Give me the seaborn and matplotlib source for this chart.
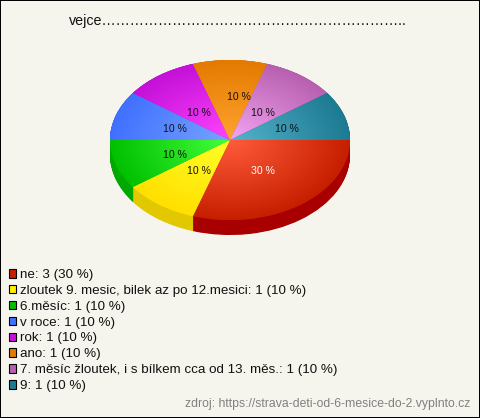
import matplotlib
matplotlib.use('Agg')
import matplotlib.pyplot as plt
from matplotlib.colors import LinearSegmentedColormap
from matplotlib.patches import Rectangle
import numpy as np
import seaborn as sns

# Survey answers
categories = ['ne', 'zloutek 9. mesic, bilek az po 12.mesici', '6.měsíc', 'v roce', 'rok', 'ano',
              '7. měsíc žloutek, i s bílkem cca od 13. měs.', '9']
counts = [3, 1, 1, 1, 1, 1, 1, 1]
percents = [30, 10, 10, 10, 10, 10, 10, 10]
title_text = 'vejce' + '…' * 21 + '..'
source_text = 'zdroj: https://strava-deti-od-6-mesice-do-2.vyplnto.cz'

# Colours: wedge rim, wedge centre, side wall
rim_colors = ['#c61f00', '#ffe000', '#00c000', '#4070ff', '#c410d8', '#e47a00', '#b860b0', '#1c7a92']
centre_colors = ['#ff5c3c', '#ffff28', '#44ff3c', '#78a4ff', '#ff44ff', '#ffa430', '#f2a4f2', '#54b4cc']
side_colors = ['#a80000', '#e2c800', '#00a800', '#2850c0', '#9000a0', '#b06000', '#904890', '#105868']
legend_colors = ['#c62000', '#fff000', '#00c000', '#4070ff', '#c810d8', '#e47a00', '#b860b0', '#1c7a92']
bg_color = '#f5f5ee'

sns.set_theme(style='white')
plt.rcParams['font.family'] = ['Liberation Sans', 'DejaVu Sans']

W, H = 480, 418
fig = plt.figure(figsize=(W / 100, H / 100), dpi=100, facecolor=bg_color)

# pie box in pixels: centre (230, 140), radii 120 x 80, 15 px wall
depth = 15 / 80
ax = fig.add_axes([110 / W, 1 - 235 / H, 240 / W, 175 / H])
ax.patch.set_alpha(0)
no_edge = {'linewidth': 0, 'edgecolor': 'none'}

for d in np.linspace(depth, 0.0, 31):
    ax.pie(counts, colors=side_colors, startangle=0, counterclock=False, center=(0, -d), wedgeprops=no_edge)

wedges, _, autotexts = ax.pie(counts, colors=rim_colors, startangle=0, counterclock=False,
                              autopct=lambda p: '%d %%' % round(p), pctdistance=0.5, wedgeprops=no_edge,
                              textprops={'fontsize': 7.6, 'color': '#111111'})
autotexts[0].set_color('white')

# radial gradient on every wedge
grid = np.linspace(-1, 1, 300)
xx, yy = np.meshgrid(grid, grid)
rr = np.clip(np.hypot(xx, yy), 0, 1)
for wedge, inner, outer in zip(wedges, centre_colors, rim_colors):
    cmap = LinearSegmentedColormap.from_list('w', [inner, outer])
    im = ax.imshow(rr, extent=(-1, 1, -1, 1), cmap=cmap, vmin=0, vmax=1, aspect='auto', zorder=2)
    im.set_clip_path(wedge)

# the labels sit a little off the wedge middle in the original (px right, px down)
nudges = [(-2, -1), (4, -1), (2, 3), (2, 1), (4, 5), (9, -3), (-2, 5), (0, 1)]
for t, (dx, dy) in zip(autotexts, nudges):
    x, y = t.get_position()
    t.set_position((x + dx / 120, y - dy / 80))
    t.set_zorder(5)

ax.set_aspect('auto')
ax.set_xlim(-1, 1)
ax.set_ylim(-1 - depth, 1)
ax.axis('off')

fig.text(69 / W, 1 - 21 / H, title_text, fontsize=10.3, color='#111111', va='center', ha='left')

handles = [Rectangle((0, 0), 1, 1, facecolor=c, edgecolor='black', linewidth=0.8) for c in legend_colors]
labels = ['%s: %d (%d %%)' % row for row in zip(categories, counts, percents)]
fig.legend(handles, labels, loc='upper left', bbox_to_anchor=(4.5 / W, 1 - 265 / H), frameon=False,
           fontsize=9.6, handlelength=0.58, handleheight=0.6, handletextpad=0.25,
           labelspacing=0.29, borderpad=0.3, borderaxespad=0, labelcolor='#111111')

fig.text(470 / W, 1 - 404 / H, source_text, fontsize=8.8, color='#808080', ha='right', va='center')

# chart frame
fig.add_artist(Rectangle((0, 0), 1, 1, transform=fig.transFigure, fill=False, edgecolor='black', linewidth=1.44))

fig.savefig('out.png', dpi=100, facecolor=bg_color)
